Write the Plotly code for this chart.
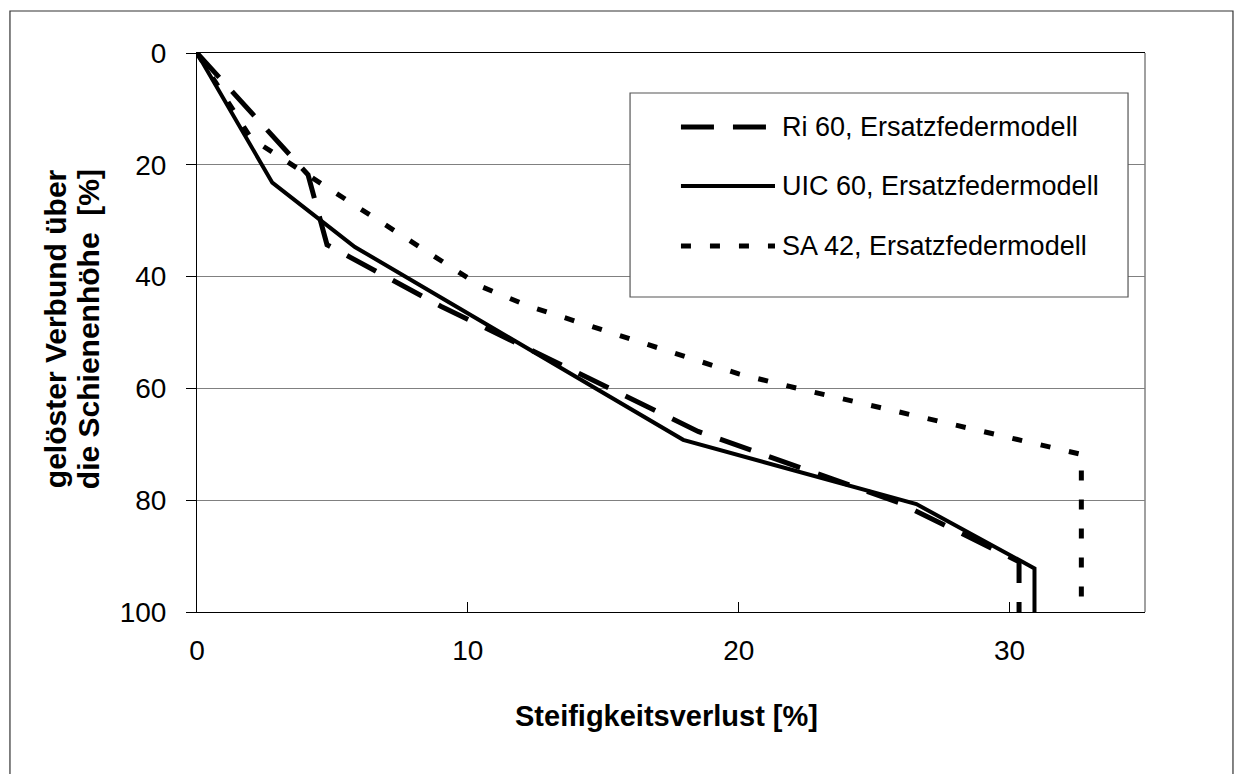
import plotly.graph_objects as go

# Steifigkeitsverlust [%] (x) vs. gelöster Verbund über die Schienenhöhe [%] (y)
ri60_verlust = [0, 4.1, 4.8, 9.0, 18.5, 25.9, 30.35, 30.35]
ri60_verbund = [0, 21.8, 34.3, 45.3, 67.7, 80.4, 91.0, 100]

uic60_verlust = [0, 2.78, 5.83, 17.95, 26.56, 30.92, 30.92]
uic60_verbund = [0, 23.2, 34.7, 69.2, 80.7, 92.2, 100]

sa42_verlust = [0, 2.0, 10.5, 12.2, 20.0, 22.0, 32.65, 32.65]
sa42_verbund = [0, 15.3, 41.8, 45.2, 57.4, 59.8, 71.8, 100]

series_names = ["Ri 60, Ersatzfedermodell", "UIC 60, Ersatzfedermodell", "SA 42, Ersatzfedermodell"]
x_ticks = [0, 10, 20, 30]
y_ticks = [0, 20, 40, 60, 80, 100]

FONT = "Liberation Sans, Arial, sans-serif"
styles = [
    dict(color="black", width=5, dash="33px,19px"),
    dict(color="black", width=4, dash="solid"),
    dict(color="black", width=5, dash="10px,19px"),
]

fig = go.Figure()
for name, xs, ys, st in zip(series_names,
                            [ri60_verlust, uic60_verlust, sa42_verlust],
                            [ri60_verbund, uic60_verbund, sa42_verbund],
                            styles):
    fig.add_trace(go.Scatter(x=xs, y=ys, mode="lines", name=name,
                             line=st, showlegend=False, hoverinfo="x+y+name"))

fig.update_layout(
    width=1234, height=774,
    margin=dict(l=197, r=89, t=53, b=162),
    paper_bgcolor="white", plot_bgcolor="white",
    font=dict(family=FONT, color="black"),
)

fig.update_xaxes(
    range=[0, 35], tickvals=x_ticks, ticks="inside", ticklen=10, tickcolor="black",
    showline=True, linecolor="black", linewidth=1, mirror=True,
    showgrid=False, zeroline=False, tickfont=dict(size=28, family=FONT),
    ticklabelstandoff=13,
)
fig.update_yaxes(
    range=[100, 0], tickvals=y_ticks, ticks="outside", ticklen=10, tickcolor="black",
    showline=True, linecolor="black", linewidth=1,
    showgrid=True, gridcolor="#808080", gridwidth=1, zeroline=False,
    tickfont=dict(size=28, family=FONT), ticklabelstandoff=14,
)

shapes = [
    # chart frame
    dict(type="rect", xref="paper", yref="paper", x0=-0.1973, x1=1.0928, y0=-0.36, y1=1.0751,
         line=dict(color="#333333", width=1.2), fillcolor="rgba(0,0,0,0)", layer="below"),
    # right edge of plot area
    dict(type="line", xref="paper", yref="paper", x0=1, x1=1, y0=0, y1=1,
         line=dict(color="#808080", width=1.5)),
    # legend box
    dict(type="rect", xref="paper", yref="paper", x0=0.4568, x1=0.9821, y0=0.5635, y1=0.9284,
         line=dict(color="#555555", width=1.2), fillcolor="white"),
]
legend_rows = [0.8676, 0.7621, 0.6547]
annotations = []
for name, st, yy in zip(series_names, styles, legend_rows):
    shapes.append(dict(type="line", xref="paper", yref="paper", x0=0.5105, x1=0.6097, y0=yy, y1=yy,
                       line=dict(color=st["color"], width=st["width"], dash=st["dash"])))
    annotations.append(dict(text=name, xref="paper", yref="paper", x=0.6155, y=yy,
                            xanchor="left", yanchor="middle", showarrow=False,
                            font=dict(size=27, family=FONT, color="black")))

annotations.append(dict(text="<b>Steifigkeitsverlust [%]</b>", xref="paper", yref="paper",
                        x=0.495, y=-0.186, xanchor="center", yanchor="middle", showarrow=False,
                        font=dict(size=29, family=FONT, color="black")))
# two-line y-axis title, one annotation per line
for line_text, px_x in [("gelöster Verbund über", 55), ("die Schienenhöhe\u00a0 [%]", 88)]:
    annotations.append(dict(text="<b>" + line_text + "</b>",
                            xref="paper", yref="paper", x=(px_x - 197) / 948, y=0.506,
                            textangle=-90, xanchor="center", yanchor="middle", showarrow=False,
                            font=dict(size=30, family=FONT, color="black")))

fig.update_layout(shapes=shapes, annotations=annotations)
fig.write_html("out.html")
